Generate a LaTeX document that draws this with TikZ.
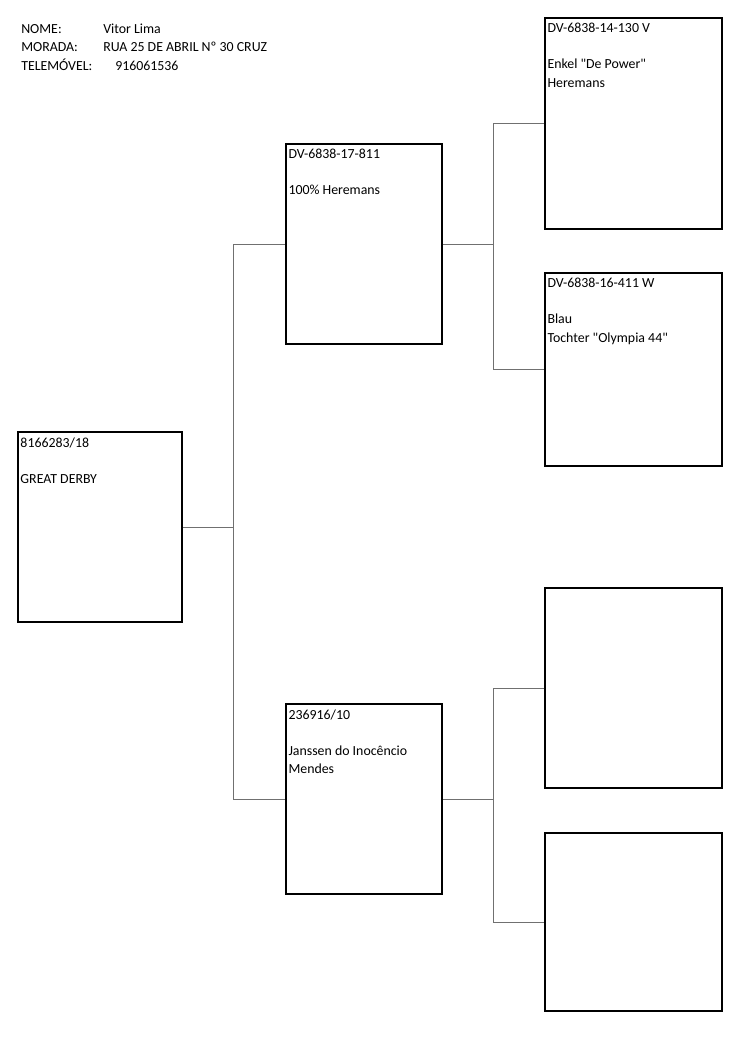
\documentclass[tikz,border=0pt]{standalone}
\usepackage{fontspec}
\setmainfont{Carlito}
\usepackage{tikz}

\def\unitpx{0.7933pt}
\definecolor{linkgray}{HTML}{707070}

\tikzset{
    bird/.style={draw=black, line width=1.2pt, inner sep=0pt},
    info/.style={anchor=north west, inner sep=0pt, align=left},
    head/.style={anchor=base west, inner sep=0pt},
    link/.style={draw=linkgray, line width=0.7pt}
}

\begin{document}
\begin{tikzpicture}[x=0.7933pt, y=-0.7933pt,
    every node/.append style={font=\fontsize{11}{14.5}\selectfont}]

            \useasboundingbox (0,0) rectangle (750,1061);

            \node[head] (nome) at (21,34) {NOME:};
            \node[head] (nomeV) at (103,34) {Vitor Lima};
            \node[head] (morada) at (21,52) {MORADA:};
            \node[head] (moradaV) at (103,52) {RUA 25 DE ABRIL Nº 30 CRUZ};
            \node[head] (telemovel) at (21,70) {TELEMÓVEL:};
            \node[head] (telemovelV) at (115,70) {916061536};

            \node[bird, minimum width=164*\unitpx, minimum height=190*\unitpx] (root) at (100,527) {};
            \node[bird, minimum width=156*\unitpx, minimum height=200*\unitpx] (sire) at (364,244) {};
            \node[bird, minimum width=156*\unitpx, minimum height=190*\unitpx] (dam) at (364,799) {};
            \node[bird, minimum width=177*\unitpx, minimum height=211*\unitpx] (ss) at (633.5,123.5) {};
            \node[bird, minimum width=177*\unitpx, minimum height=193*\unitpx] (sd) at (633.5,369.5) {};
            \node[bird, minimum width=177*\unitpx, minimum height=200*\unitpx] (ds) at (633.5,688) {};
            \node[bird, minimum width=177*\unitpx, minimum height=178*\unitpx] (dd) at (633.5,922) {};

            \node[info] (rootT) at ([shift={(3,6)}]root.north west) {8166283/18\\[14pt]GREAT DERBY};
            \node[info] (sireT) at ([shift={(3,6)}]sire.north west) {DV-6838-17-811\\[14pt]100\% Heremans};
            \node[info] (damT) at ([shift={(3,6)}]dam.north west) {236916/10\\[14pt]Janssen do Inocêncio\\Mendes};
            \node[info] (ssT) at ([shift={(3,6)}]ss.north west) {DV-6838-14-130 V\\[14pt]Enkel \textquotedbl De Power\textquotedbl\\Heremans};
            \node[info] (sdT) at ([shift={(3,6)}]sd.north west) {DV-6838-16-411 W\\[14pt]Blau\\Tochter \textquotedbl Olympia 44\textquotedbl};

            \draw[link] (root.east) -- ++(51,0) coordinate (j0);
            \draw[link] (sire.west) -| (j0) |- (dam.west);

            \draw[link] (sire.east) -- ++(51,0) coordinate (j1);
            \draw[link] (ss.west) -| (j1) |- (sd.west);

            \draw[link] (dam.east) -- ++(51,0) coordinate (j2);
            \draw[link] (ds.west) -| (j2) |- (dd.west);

\end{tikzpicture}
\end{document}
